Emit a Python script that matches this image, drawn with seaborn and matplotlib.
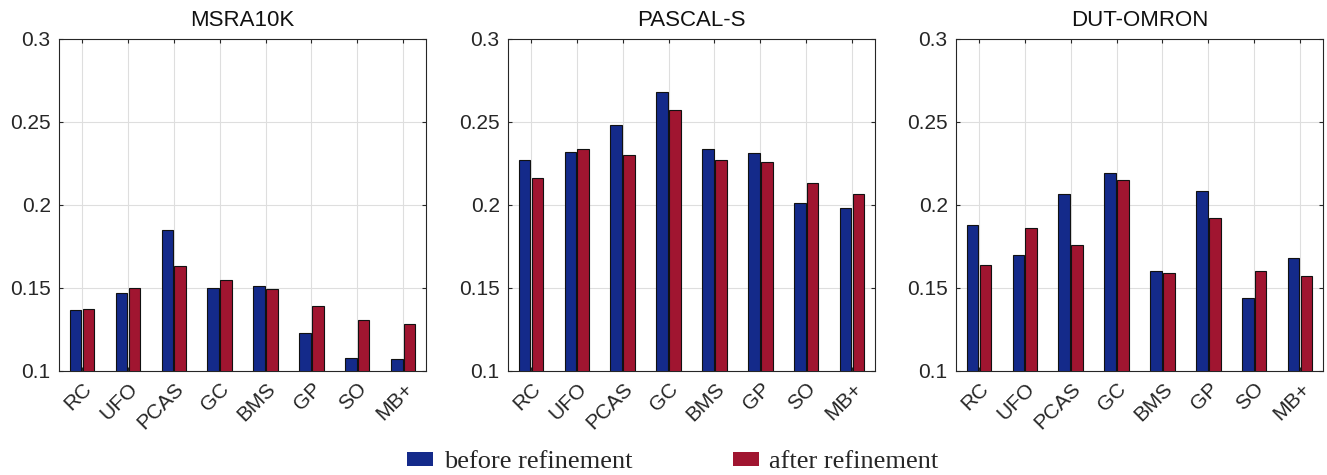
import matplotlib
matplotlib.use("Agg")
import matplotlib.pyplot as plt
import seaborn as sns
import pandas as pd

methods = ["RC", "UFO", "PCAS", "GC", "BMS", "GP", "SO", "MB+"]
datasets = ["MSRA10K", "PASCAL-S", "DUT-OMRON"]
stages = ["before refinement", "after refinement"]

msra_before = [0.137, 0.147, 0.185, 0.150, 0.151, 0.123, 0.108, 0.107]
msra_after = [0.1375, 0.150, 0.163, 0.155, 0.1495, 0.139, 0.1305, 0.128]
pascal_before = [0.227, 0.232, 0.248, 0.268, 0.234, 0.2315, 0.201, 0.198]
pascal_after = [0.216, 0.234, 0.230, 0.257, 0.227, 0.226, 0.213, 0.2065]
dut_before = [0.188, 0.170, 0.2065, 0.219, 0.160, 0.2085, 0.144, 0.168]
dut_after = [0.164, 0.186, 0.176, 0.215, 0.159, 0.192, 0.160, 0.157]

yticks = [0.1, 0.15, 0.2, 0.25, 0.3]
ytick_labels = ["0.1", "0.15", "0.2", "0.25", "0.3"]

series = {
    "MSRA10K": (msra_before, msra_after),
    "PASCAL-S": (pascal_before, pascal_after),
    "DUT-OMRON": (dut_before, dut_after),
}

rows = []
for ds in datasets:
    before, after = series[ds]
    for m, b, a in zip(methods, before, after):
        rows.append({"dataset": ds, "method": m, "stage": stages[0], "value": b})
        rows.append({"dataset": ds, "method": m, "stage": stages[1], "value": a})
df = pd.DataFrame(rows)

sns.set_theme(style="white")
plt.rcParams["font.family"] = ["Liberation Sans", "DejaVu Sans"]

palette = {stages[0]: "#142a8a", stages[1]: "#a01530"}

fig = plt.figure(figsize=(13.27, 4.75), dpi=100)
lefts = [0.0445, 0.3828, 0.7204]
width = 0.2766
bottom = 0.219
height = 0.699

for i, ds in enumerate(datasets):
    ax = fig.add_axes([lefts[i], bottom, width, height])
    sub = df[df["dataset"] == ds]
    sns.barplot(data=sub, x="method", y="value", hue="stage", order=methods,
                hue_order=stages, palette=palette, width=0.56, gap=0.1,
                edgecolor="#111111", linewidth=0.8, errorbar=None,
                saturation=1.0, ax=ax, legend=False, zorder=3)
    ax.set_ylim(0.1, 0.3)
    ax.set_xlim(-0.5, len(methods) - 0.5)
    ax.set_yticks(yticks)
    ax.set_yticklabels(ytick_labels)
    ax.set_xlabel("")
    ax.set_ylabel("")
    ax.set_title(ds, fontsize=16, pad=9, color="#111111")
    ax.set_xticks(range(len(methods)))
    ax.set_xticklabels(methods, rotation=45, ha="right", rotation_mode="anchor")
    ax.grid(True, color="#dedede", linewidth=0.8, zorder=0)
    ax.set_axisbelow(True)
    ax.tick_params(axis="both", which="major", direction="in", length=3,
                   width=0.8, labelsize=15, colors="#262626", labelcolor="#262626",
                   top=True, right=True, bottom=True, left=True)
    ax.tick_params(axis="y", pad=6)
    ax.tick_params(axis="x", pad=6)
    for sp in ax.spines.values():
        sp.set_visible(True)
        sp.set_color("#262626")
        sp.set_linewidth(0.8)

handles = [plt.Rectangle((0, 0), 1, 1, facecolor=palette[s], edgecolor="none") for s in stages]
fig.legend(handles, stages, loc="center", bbox_to_anchor=(0.507, 0.027), ncol=2,
           frameon=False, prop={"family": ["Liberation Serif", "DejaVu Serif"], "size": 19},
           handlelength=1.0, handleheight=0.45, handletextpad=0.4, columnspacing=3.8,
           borderpad=0.0)

fig.savefig("out.png", dpi=100)
